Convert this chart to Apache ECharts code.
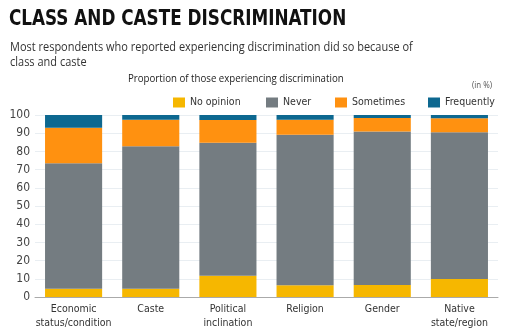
<!DOCTYPE html>
<html><head><meta charset="utf-8">
<script src="https://cdn.jsdelivr.net/npm/echarts@6/dist/echarts.min.js"></script>
<style>html,body{margin:0;padding:0;background:#fff}#c{width:516px;height:335px}</style>
</head><body><div id="c"></div>
<script>
const categories = ["Economic\nstatus/condition","Caste","Political\ninclination","Religion","Gender","Native\nstate/region"];
const seriesNames = ['No opinion','Never','Sometimes','Frequently'];
const noOpinion = [4.5, 4.5, 11.7, 6.4, 6.6, 9.9];
const never = [69, 78.3, 73.1, 82.8, 84.4, 80.6];
const sometimes = [19.5, 14.6, 12.5, 8.2, 7.3, 7.7];
const frequently = [7, 2.6, 2.7, 2.6, 1.7, 1.8];
const yTicks = [0,10,20,30,40,50,60,70,80,90,100];

const NARROW = "'DejaVu Sans Condensed', sans-serif";
const chart = echarts.init(document.getElementById('c'));
const mk = (name, data, color) => ({name, type:'bar', stack:'s', data, barCategoryGap:'26%', itemStyle:{color}});
const legendLefts = [173, 266, 335, 428];
chart.setOption({
  animation:false,
  textStyle:{fontFamily:NARROW},
  graphic:[
    {type:'text', left:9, top:8, scaleX:0.85, style:{text:'CLASS AND CASTE DISCRIMINATION', font:"bold 22px 'DejaVu Sans Condensed'", fill:'#111'}},
    {type:'text', x:10, y:40, scaleX:0.845, style:{text:'Most respondents who reported experiencing discrimination did so because of\nclass and caste', font:"13px 'Open Sans'", lineHeight:15, fill:'#333'}},
    {type:'text', x:128, y:73, scaleX:0.88, style:{text:'Proportion of those experiencing discrimination', font:"11px 'Open Sans'", fill:'#222'}},
    {type:'text', x:472, y:81, scaleX:0.88, style:{text:'(in %)', font:"9px 'Open Sans'", fill:'#555'}}
  ],
  legend: seriesNames.map((n,i)=>({data:[n], left:legendLefts[i], top:97, padding:0, itemWidth:12, itemHeight:10, itemGap:5, icon:'rect', selectedMode:false,
    textStyle:{fontSize:10.5, color:'#333', fontFamily:NARROW}})),
  grid:{left:35, right:18, top:115, bottom:38},
  xAxis:{type:'category', data:categories,
    axisLine:{lineStyle:{color:'#aaa'}}, axisTick:{show:false},
    axisLabel:{interval:0, color:'#333', fontSize:10.5, lineHeight:14, margin:5, fontFamily:NARROW}},
  yAxis:{type:'value', min:0, max:100, interval:10,
    axisLine:{show:false}, axisTick:{show:false},
    splitLine:{lineStyle:{color:'#e9eef2'}},
    axisLabel:{color:'#444', fontSize:12, margin:5, fontFamily:NARROW, formatter:v=>yTicks.includes(v)?String(v):''}},
  series:[
    mk(seriesNames[0], noOpinion, '#F6B700'),
    mk(seriesNames[1], never, '#747C81'),
    mk(seriesNames[2], sometimes, '#FF9110'),
    mk(seriesNames[3], frequently, '#0D6890')
  ]
});
</script></body></html>
